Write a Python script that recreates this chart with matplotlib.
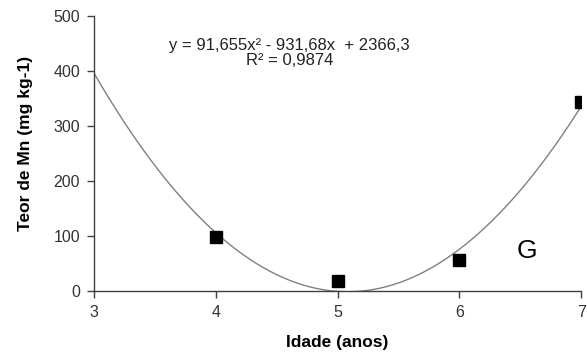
import numpy as np
import matplotlib.pyplot as plt

plt.rcParams['font.family'] = ['Liberation Sans', 'DejaVu Sans']

idade = [4, 5, 6, 7]
teor_mn = [99, 18, 57, 343]
# trendline coefficients as printed on the chart
coef = [91.655, -931.68, 2366.3]
r2 = 0.9874

fig = plt.figure(figsize=(5.87, 3.54), dpi=100)
ax = fig.add_axes([0.160, 0.178, 0.830, 0.777])

xs = np.linspace(3, 7, 300)
ax.plot(xs, np.polyval(coef, xs), color='#808080', lw=1.0)
ax.plot(idade, teor_mn, 's', color='black', ms=8)

ax.set_xlim(3, 7)
ax.set_ylim(0, 500)
ax.set_xticks([3, 4, 5, 6, 7])
ax.set_yticks([0, 100, 200, 300, 400, 500])
for s in ['top', 'right']:
    ax.spines[s].set_visible(False)
for s in ['left', 'bottom']:
    ax.spines[s].set_color('#404040')
    ax.spines[s].set_linewidth(1.0)
ax.tick_params(direction='out', length=5, width=1, color='#404040',
               labelsize=11.5, labelcolor='#333333', pad=5)
ax.set_xlabel('Idade (anos)', fontsize=12.5, fontweight='bold', labelpad=11)
ax.set_ylabel('Teor de Mn (mg kg-1)', fontsize=12.5, fontweight='bold')
ax.yaxis.set_label_coords(-0.125, 0.535)

ax.text(0.402, 0.865, 'y = 91,655x² - 931,68x  + 2366,3\nR² = 0,9874',
        transform=ax.transAxes, ha='center', va='center', fontsize=12,
        color='#222222', linespacing=0.95, multialignment='center')
ax.text(0.889, 0.145, 'G', transform=ax.transAxes, ha='center', va='center',
        fontsize=19)

fig.savefig('out.png', dpi=100)
